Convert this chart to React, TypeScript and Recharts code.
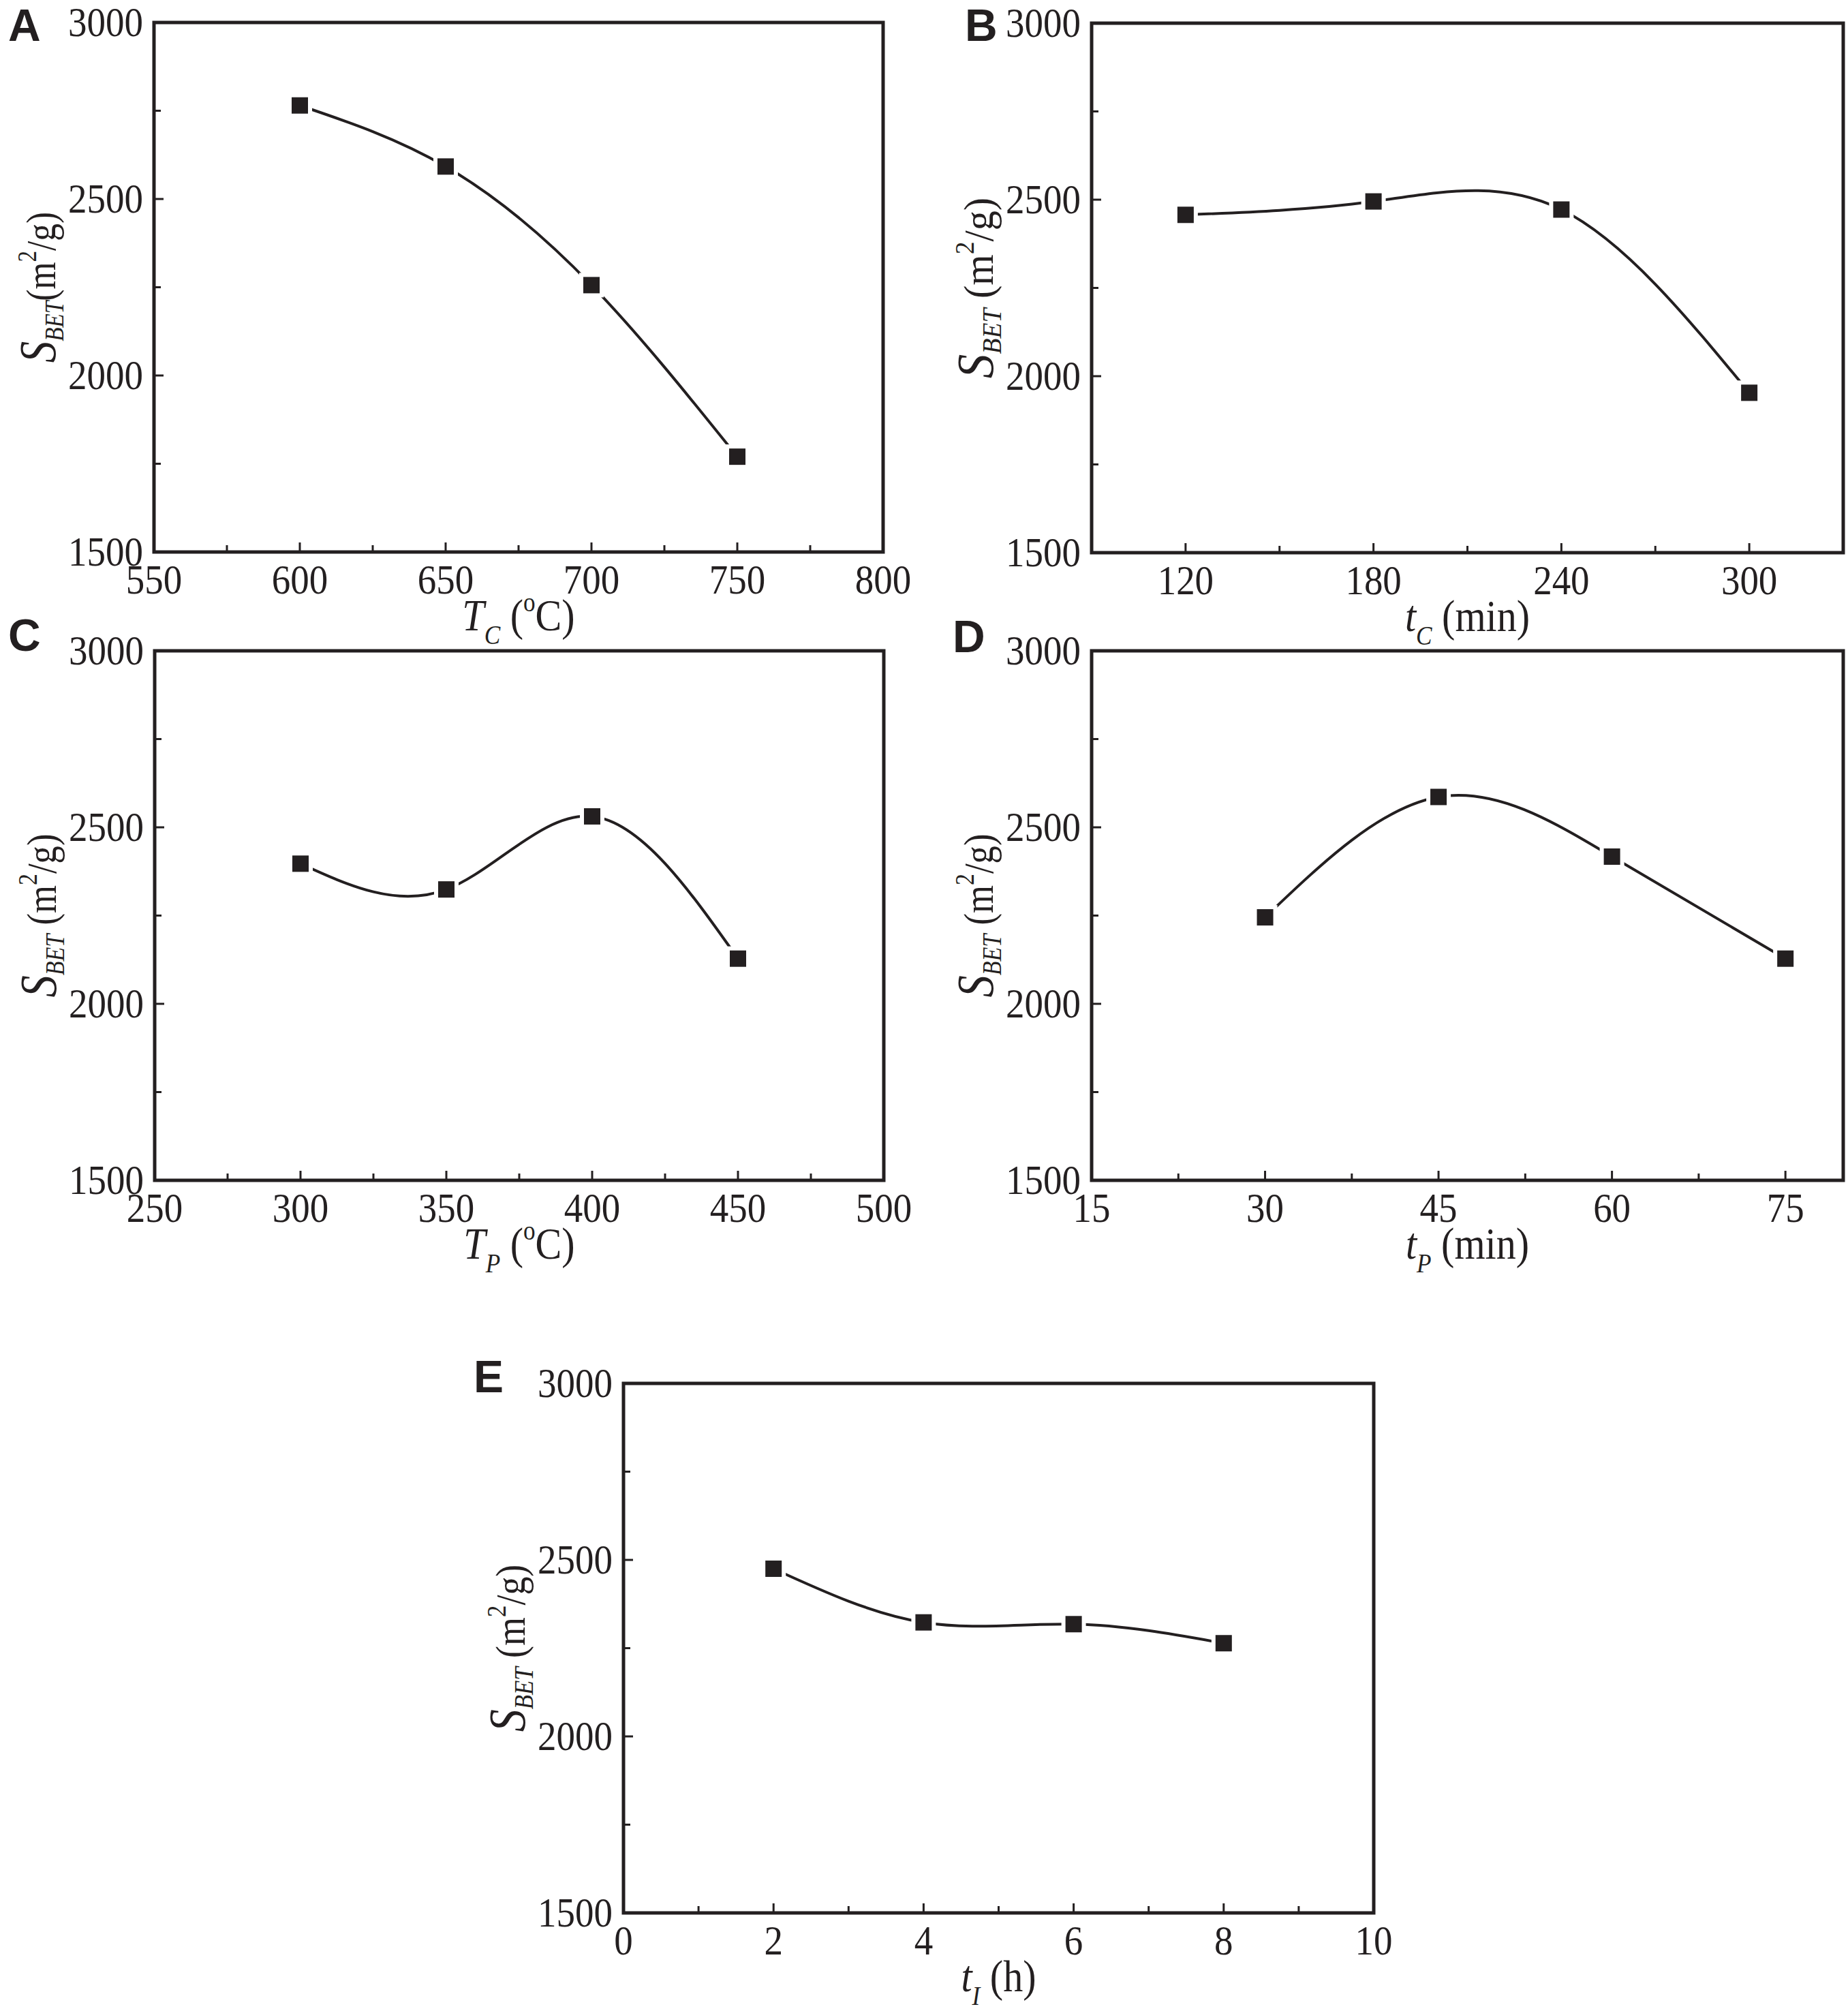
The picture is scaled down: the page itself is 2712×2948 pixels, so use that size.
import React from "react";
import { LineChart, Line, XAxis, YAxis, ReferenceArea } from "recharts";

const INK = "#231f20";
const SERIF = '"Liberation Serif", "Times New Roman", serif';
const SANS = '"Liberation Sans", Arial, sans-serif';

// A: carbonization temperature
const tcTemps = [600, 650, 700, 750];
const tcTempArea = [2765, 2592, 2256, 1770];
// B: carbonization time
const tcTimes = [120, 180, 240, 300];
const tcTimeArea = [2457, 2495, 2472, 1953];
// C: pre-treatment temperature
const tpTemps = [300, 350, 400, 450];
const tpTempArea = [2397, 2324, 2531, 2128];
// D: pre-treatment time
const tpTimes = [30, 45, 60, 75];
const tpTimeArea = [2245, 2586, 2417, 2128];
// E: impregnation time
const tiTimes = [2, 4, 6, 8];
const tiTimeArea = [2475, 2323, 2318, 2264];

const yMajor = [1500, 2000, 2500, 3000];
const yMinor = [1750, 2250, 2750];

const aMajor = [550, 600, 650, 700, 750, 800];
const aMinor = [575, 625, 675, 725, 775];
const bMajor = [120, 180, 240, 300];
const bMinor = [150, 210, 270];
const cMajor = [250, 300, 350, 400, 450, 500];
const cMinor = [275, 325, 375, 425, 475];
const dMajor = [15, 30, 45, 60, 75];
const dMinor = [22.5, 37.5, 52.5, 67.5];
const eMajor = [0, 2, 4, 6, 8, 10];
const eMinor = [1, 3, 5, 7, 9];

const YW = 230;
const MT = 40;
const MR = 40;
const XH = 170;
const TICK_FONT = 55;
const TICK_STRETCH = 1.1;
const TITLE_FONT = 66;
const Y_TITLE_FONT = 62;
const SUB_FONT = 40;

function XTick(props: any) {
  const { x, y, payload, majors } = props;
  const major = majors.includes(payload.value);
  const by = y + 61;
  return (
    <g>
      <line x1={x} y1={y} x2={x} y2={y - (major ? 14 : 10)} stroke={INK} strokeWidth={3} />
      {major && (
        <text
          x={0}
          y={0}
          transform={`translate(${x} ${by}) scale(1 ${TICK_STRETCH})`}
          textAnchor="middle"
          style={{ fontFamily: SERIF, fontSize: TICK_FONT }}
          fill={INK}
        >
          {payload.value}
        </text>
      )}
    </g>
  );
}

function YTick(props: any) {
  const { x, y, payload } = props;
  const major = yMajor.includes(payload.value);
  const by = y + 20;
  return (
    <g>
      <line x1={x} y1={y} x2={x + (major ? 14 : 10)} y2={y} stroke={INK} strokeWidth={3} />
      {major && (
        <text
          x={0}
          y={0}
          transform={`translate(${x - 16} ${by}) scale(1 ${TICK_STRETCH})`}
          textAnchor="end"
          style={{ fontFamily: SERIF, fontSize: TICK_FONT }}
          fill={INK}
        >
          {payload.value}
        </text>
      )}
    </g>
  );
}

function YTitle(props: any) {
  const vb = props.viewBox;
  const bx = vb.x + vb.width - 145;
  const cy = vb.y + vb.height / 2;
  return (
    <text
      x={0}
      y={0}
      transform={`translate(${bx} ${cy}) rotate(-90) scale(${props.squeeze} 1)`}
      textAnchor="middle"
      style={{ fontFamily: SERIF, fontSize: Y_TITLE_FONT }}
      fill={INK}
    >
      <tspan fontStyle="italic" fontSize={76}>S</tspan>
      <tspan fontStyle="italic" fontSize={SUB_FONT} dy={12}>BET</tspan>
      <tspan dy={-12}>{props.gap}(m</tspan>
      <tspan fontSize={SUB_FONT} dy={-28}>2</tspan>
      <tspan dy={28}>/g)</tspan>
    </text>
  );
}

function XTitle(props: any) {
  const vb = props.viewBox;
  const cx = vb.x + vb.width / 2;
  const by = vb.y + 115;
  return (
    <text
      x={0}
      y={0}
      transform={`translate(${cx} ${by}) scale(0.88 1)`}
      textAnchor="middle"
      style={{ fontFamily: SERIF, fontSize: TITLE_FONT }}
      fill={INK}
    >
      <tspan fontStyle="italic">{props.main}</tspan>
      <tspan fontStyle="italic" fontSize={SUB_FONT} dy={20}>{props.sub}</tspan>
      {props.degree ? (
        <>
          <tspan dy={-20}> (</tspan>
          <tspan fontSize={SUB_FONT} dy={-28}>o</tspan>
          <tspan dy={28}>C)</tspan>
        </>
      ) : (
        <tspan dy={-20}> ({props.unit})</tspan>
      )}
    </text>
  );
}

function SquareDot(props: any) {
  const { cx, cy, index } = props;
  return (
    <rect
      key={`dot-${index}`}
      x={cx - 12}
      y={cy - 12}
      width={24}
      height={24}
      fill={INK}
      stroke="#ffffff"
      strokeWidth={12}
      paintOrder="stroke"
    />
  );
}

type PanelProps = {
  left: number;
  top: number;
  width: number;
  height: number;
  xs: number[];
  ys: number[];
  xDomain: [number, number];
  xMajor: number[];
  xMinor: number[];
  main: string;
  sub: string;
  degree?: boolean;
  unit?: string;
  yGap: string;
  squeeze: number;
};

function Panel(p: PanelProps) {
  const data = p.xs.map((x, i) => ({ x, y: p.ys[i] }));
  const xTicks = [...p.xMajor, ...p.xMinor].sort((a, b) => a - b);
  const yTicks = [...yMajor, ...yMinor].sort((a, b) => a - b);
  return (
    <div style={{ position: "absolute", left: p.left - YW, top: p.top - MT }}>
      <LineChart
        width={YW + p.width + MR}
        height={MT + p.height + XH}
        data={data}
        margin={{ top: MT, right: MR, bottom: 0, left: 0 }}
      >
        <XAxis
          type="number"
          dataKey="x"
          domain={p.xDomain}
          ticks={xTicks}
          interval={0}
          allowDataOverflow
          axisLine={false}
          tickLine={false}
          tickSize={0}
          tickMargin={0}
          height={XH}
          tick={(t: any) => <XTick {...t} majors={p.xMajor} />}
          label={<XTitle main={p.main} sub={p.sub} degree={p.degree} unit={p.unit} />}
        />
        <YAxis
          type="number"
          domain={[1500, 3000]}
          ticks={yTicks}
          interval={0}
          allowDataOverflow
          axisLine={false}
          tickLine={false}
          tickSize={0}
          tickMargin={0}
          width={YW}
          tick={(t: any) => <YTick {...t} />}
          label={<YTitle gap={p.yGap} squeeze={p.squeeze} />}
        />
        <ReferenceArea
          x1={p.xDomain[0]}
          x2={p.xDomain[1]}
          y1={1500}
          y2={3000}
          fill="none"
          stroke={INK}
          strokeWidth={5}
          ifOverflow="visible"
        />
        <Line
          type="natural"
          dataKey="y"
          stroke={INK}
          strokeWidth={4}
          isAnimationActive={false}
          dot={SquareDot}
          activeDot={false}
        />
      </LineChart>
    </div>
  );
}

const letters = [
  { t: "A", x: 12, y: 60 },
  { t: "B", x: 1416, y: 60 },
  { t: "C", x: 12, y: 955 },
  { t: "D", x: 1398, y: 957 },
  { t: "E", x: 695, y: 2043 },
];

export default function App() {
  return (
    <div style={{ position: "absolute", left: 0, top: 0, width: 2712, height: 2948, background: "#ffffff" }}>
      <Panel left={226} top={33} width={1070} height={777} xs={tcTemps} ys={tcTempArea}
        xDomain={[550, 800]} xMajor={aMajor} xMinor={aMinor} main="T" sub="C" degree yGap="" squeeze={0.83} />
      <Panel left={1602} top={34} width={1103} height={777} xs={tcTimes} ys={tcTimeArea}
        xDomain={[90, 330]} xMajor={bMajor} xMinor={bMinor} main="t" sub="C" unit="min" yGap=" " squeeze={0.94} />
      <Panel left={227} top={955} width={1070} height={777} xs={tpTemps} ys={tpTempArea}
        xDomain={[250, 500]} xMajor={cMajor} xMinor={cMinor} main="T" sub="P" degree yGap=" " squeeze={0.85} />
      <Panel left={1602} top={955} width={1103} height={777} xs={tpTimes} ys={tpTimeArea}
        xDomain={[15, 80]} xMajor={dMajor} xMinor={dMinor} main="t" sub="P" unit="min" yGap=" " squeeze={0.85} />
      <Panel left={915} top={2030} width={1101} height={777} xs={tiTimes} ys={tiTimeArea}
        xDomain={[0, 10]} xMajor={eMajor} xMinor={eMinor} main="t" sub="I" unit="h" yGap=" " squeeze={0.87} />
      <svg width={2712} height={2948} style={{ position: "absolute", left: 0, top: 0, pointerEvents: "none" }}>
        {letters.map((l) => (
          <text key={l.t} x={l.x} y={l.y} style={{ fontFamily: SANS, fontWeight: "bold", fontSize: 66 }} fill={INK}>
            {l.t}
          </text>
        ))}
      </svg>
    </div>
  );
}
